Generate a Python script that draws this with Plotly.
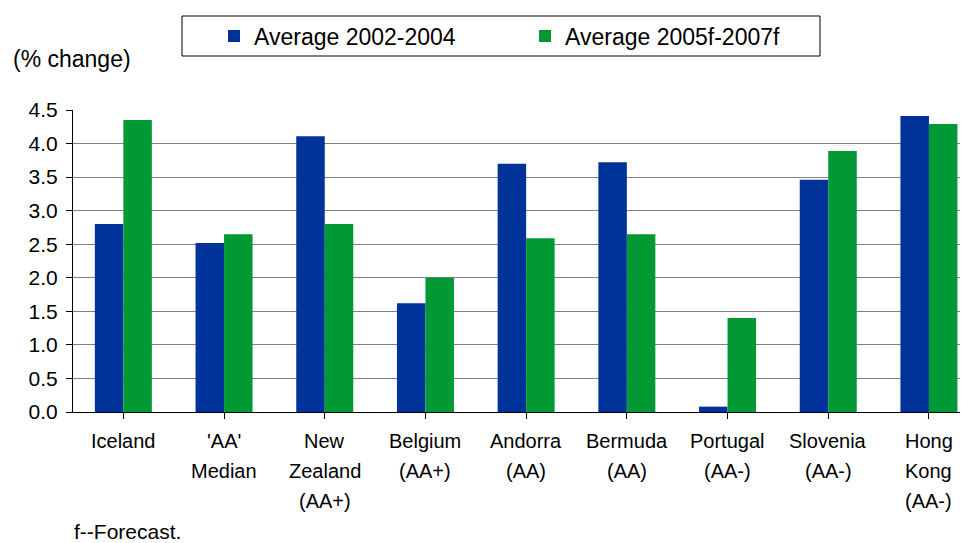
import plotly.graph_objects as go

categories = ["Iceland", "'AA'<br>Median", "New<br>Zealand<br>(AA+)", "Belgium<br>(AA+)",
              "Andorra<br>(AA)", "Bermuda<br>(AA)", "Portugal<br>(AA-)", "Slovenia<br>(AA-)",
              "Hong<br>Kong<br>(AA-)"]
avg_2002_2004 = [2.80, 2.52, 4.11, 1.62, 3.70, 3.72, 0.08, 3.46, 4.41]
avg_2005_2007 = [4.35, 2.65, 2.80, 2.00, 2.59, 2.65, 1.40, 3.89, 4.29]
series_names = ["Average 2002-2004", "Average 2005f-2007f"]
y_ticks = [0.0, 0.5, 1.0, 1.5, 2.0, 2.5, 3.0, 3.5, 4.0, 4.5]

FONT = "Arial, Liberation Sans, sans-serif"
OFF = 8  # page body margin
W, H = 968 - OFF, 543 - OFF
ML, MR, MT = 73 - OFF, 0, 110 - OFF
MB = H - (412 - OFF)
PW, PH = W - ML - MR, H - MT - MB


def px_x(page_x):
    return (page_x - OFF - ML) / PW


def px_y(page_y):
    return (H - MB - (page_y - OFF)) / PH


xidx = list(range(len(categories)))

fig = go.Figure()
fig.add_trace(go.Bar(x=xidx, y=avg_2002_2004, name=series_names[0],
                     marker=dict(color="#003399", line=dict(width=0))))
fig.add_trace(go.Bar(x=xidx, y=avg_2005_2007, name=series_names[1],
                     marker=dict(color="#009933", line=dict(width=0))))

# category labels, one annotation per line for wider line spacing
annotations = []
for i, lab in enumerate(categories):
    for j, line in enumerate(lab.split("<br>")):
        annotations.append(dict(x=i, y=0, xref="x", yref="paper", text=line,
                                showarrow=False, xanchor="center", yanchor="middle",
                                yshift=-29 - 30 * j,
                                font=dict(family=FONT, size=20, color="black")))

annotations.append(dict(x=px_x(11), y=px_y(59), xref="paper", yref="paper",
                        text="(% change)", showarrow=False, xanchor="left", yanchor="middle",
                        font=dict(family=FONT, size=23, color="black")))
annotations.append(dict(x=px_x(72), y=px_y(531), xref="paper", yref="paper",
                        text="f--Forecast.", showarrow=False, xanchor="left", yanchor="middle",
                        font=dict(family=FONT, size=21, color="black")))

# legend box
shapes = [dict(type="rect", xref="paper", yref="paper",
               x0=px_x(182), x1=px_x(820), y0=px_y(56), y1=px_y(16),
               line=dict(color="black", width=1), fillcolor="white", layer="below")]

fig.update_layout(
    width=W, height=H,
    margin=dict(l=ML, r=MR, t=MT, b=MB, pad=0),
    paper_bgcolor="white", plot_bgcolor="white",
    barmode="group", bargap=0.434, bargroupgap=0,
    font=dict(family=FONT, size=20, color="black"),
    showlegend=True,
    legend=dict(orientation="h", x=px_x(214), y=px_y(36),
                xanchor="left", yanchor="middle", bgcolor="rgba(0,0,0,0)",
                borderwidth=0, entrywidth=266, entrywidthmode="pixels",
                font=dict(family=FONT, size=23, color="black"),
                itemclick=False, itemdoubleclick=False),
    annotations=annotations,
    shapes=shapes,
    xaxis=dict(range=[-0.5, -0.5 + PW / 100.7], tickmode="array", tickvals=xidx,
               showticklabels=False, showline=True, linecolor="black", linewidth=1,
               ticks="outside", tickson="boundaries", ticklen=6, tickcolor="black",
               showgrid=False, zeroline=False, fixedrange=True),
    yaxis=dict(range=[0, 4.5], tickmode="array", tickvals=y_ticks,
               ticktext=[f"{v:.1f}" for v in y_ticks],
               showline=True, linecolor="black", linewidth=1,
               ticks="outside", ticklen=6, tickcolor="black", ticklabelstandoff=4,
               showgrid=True, gridcolor="#808080", gridwidth=1,
               zeroline=False, tickfont=dict(family=FONT, size=21, color="black"),
               fixedrange=True),
)

fig.write_html("out.html")
